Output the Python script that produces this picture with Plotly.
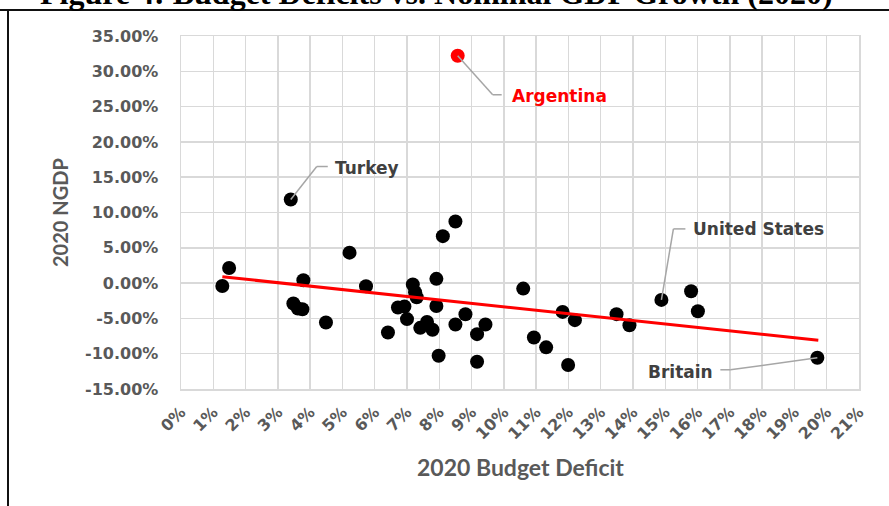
import numpy as np
import plotly.graph_objects as go

# ---- data (percent units) ----
countries = ["Argentina", "Turkey", "", "", "", "", "", "", "", "", "", "", "", "",
             "", "", "", "", "", "", "", "", "", "", "", "", "", "", "", "", "",
             "", "", "", "", "", "", "", "", "United States", "", "", "Britain"]
deficit = [8.57, 3.40, 8.50, 8.11, 5.22, 1.49, 1.28, 3.79, 5.73, 7.18, 7.25, 7.30, 7.91, 10.60,
           3.48, 3.62, 3.76, 4.49, 6.41, 6.72, 6.92, 7.00, 7.91, 7.41, 7.62, 7.79, 8.50, 8.81,
           9.43, 9.17, 7.98, 9.17, 10.93, 11.31, 11.99, 11.82, 12.20, 13.49, 13.89, 14.88,
           15.80, 16.01, 19.71]
ngdp = [32.2, 11.84, 8.73, 6.65, 4.31, 2.13, -0.41, 0.40, -0.45, -0.20, -1.30, -2.00, 0.60, -0.78,
        -2.90, -3.60, -3.70, -5.58, -7.00, -3.46, -3.32, -5.10, -3.24, -6.34, -5.50, -6.60, -5.86, -4.41,
        -5.86, -7.23, -10.30, -11.14, -7.70, -9.10, -11.60, -4.08, -5.25, -4.40, -5.96, -2.38,
        -1.16, -3.98, -10.58]
highlight = "Argentina"

# linear trendline as drawn in the reference (start / end of the fitted line)
trend_x = [1.28, 19.74]
trend_y = [0.90, -8.10]

x_ticks = list(range(0, 22))
y_ticks = list(range(-15, 36, 5))

title_text = "Figure 4: Budget Deficits vs. Nominal GDP Growth (2020)"
x_title = "2020 Budget Deficit"
y_title = "2020 NGDP"

# ---- figure ----
W, H = 889, 506
ML, MR, MT, MB = 181, 30, 36, 117
PW, PH = W - ML - MR, H - MT - MB

def px_x(p):
    return (p - ML) / PW

def px_y(p):
    return (H - MB - p) / PH

colors = ["#ff0000" if c == highlight else "#000000" for c in countries]

fig = go.Figure()
fig.add_trace(go.Scatter(x=deficit, y=ngdp, mode="markers",
                         marker=dict(size=14, color=colors, line=dict(width=0)),
                         showlegend=False, hoverinfo="skip"))
fig.add_trace(go.Scatter(x=trend_x, y=trend_y, mode="lines",
                         line=dict(color="#ff0000", width=3),
                         showlegend=False, hoverinfo="skip"))

# label styles: (elbow dx, elbow dy, end dx, text xshift, text yshift, anchor) in pixels (screen, y down)
label_style = {
    "Argentina": (35, 39, 44, 52, -40, "left"),
    "Turkey": (26, -33, 37, 42, 32, "left"),
    "United States": (12, -71, 24, 30, 71, "left"),
    "Britain": (-87, 12, -97, -102, -14, "right"),
}

shapes = []
annotations = []
for name, (ex, ey, endx, tsx, tsy, anc) in label_style.items():
    i = countries.index(name)
    px0, py0 = deficit[i], ngdp[i]
    common = dict(type="line", xref="x", yref="y", xsizemode="pixel", ysizemode="pixel",
                  xanchor=px0, yanchor=py0, line=dict(color="#a6a6a6", width=1.5), layer="above")
    shapes.append(dict(common, x0=0, y0=0, x1=ex, y1=-ey))
    shapes.append(dict(common, x0=ex, y0=-ey, x1=endx, y1=-ey))
    annotations.append(dict(x=px0, y=py0, xref="x", yref="y", text="<b>%s</b>" % name,
                            showarrow=False, xanchor=anc, yanchor="middle",
                            xshift=tsx, yshift=tsy,
                            font=dict(family="DejaVu Sans", size=17,
                                      color="#ff0000" if name == highlight else "#404040")))

# axis titles
annotations.append(dict(x=0.5, y=px_y(467), xref="paper", yref="paper", text="<b>%s</b>" % x_title,
                        showarrow=False, xanchor="center", yanchor="middle",
                        font=dict(family="Lato", size=23, color="#595959")))
annotations.append(dict(x=px_x(60), y=px_y(213), xref="paper", yref="paper", text="<b>%s</b>" % y_title,
                        showarrow=False, xanchor="center", yanchor="middle", textangle=-90,
                        font=dict(family="Lato", size=20, color="#595959")))
# cut-off figure caption at top
annotations.append(dict(x=px_x(835), y=px_y(13), xref="paper", yref="paper", text="<b>%s</b>" % title_text,
                        showarrow=False, xanchor="right", yanchor="bottom",
                        font=dict(family="Liberation Serif", size=32, color="#000000")))

# figure frame lines (top and left)
shapes.append(dict(type="line", xref="paper", yref="paper", x0=px_x(0), x1=px_x(W), y0=px_y(10), y1=px_y(10),
                   line=dict(color="#111111", width=2), layer="above"))
shapes.append(dict(type="line", xref="paper", yref="paper", x0=px_x(8), x1=px_x(8), y0=px_y(10), y1=px_y(H),
                   line=dict(color="#111111", width=2), layer="above"))

tickfont = dict(family="DejaVu Sans", size=16, color="#595959", weight="bold")

fig.update_layout(
    width=W, height=H,
    margin=dict(l=ML, r=MR, t=MT, b=MB, autoexpand=False),
    paper_bgcolor="white", plot_bgcolor="white",
    shapes=shapes, annotations=annotations,
    xaxis=dict(range=[0, 21], tickvals=x_ticks, ticktext=["%d%%" % v for v in x_ticks],
               tickangle=-45, showgrid=True, gridcolor="#d9d9d9", gridwidth=1.5,
               showline=True, linecolor="#d9d9d9", linewidth=1.5, mirror=True,
               zeroline=False, ticks="", tickfont=tickfont, ticklabelstandoff=6,
               fixedrange=True),
    yaxis=dict(range=[-15, 35], tickvals=y_ticks, ticktext=["%.2f%%" % v for v in y_ticks],
               showgrid=True, gridcolor="#d9d9d9", gridwidth=1.5,
               showline=True, linecolor="#d9d9d9", linewidth=1.5, mirror=True,
               zeroline=False, ticks="", tickfont=tickfont, ticklabelstandoff=18,
               fixedrange=True),
)

fig.write_html("out.html", config={"displayModeBar": False, "staticPlot": True},
               post_script="document.body.style.margin='0';document.body.style.overflow='hidden';")
